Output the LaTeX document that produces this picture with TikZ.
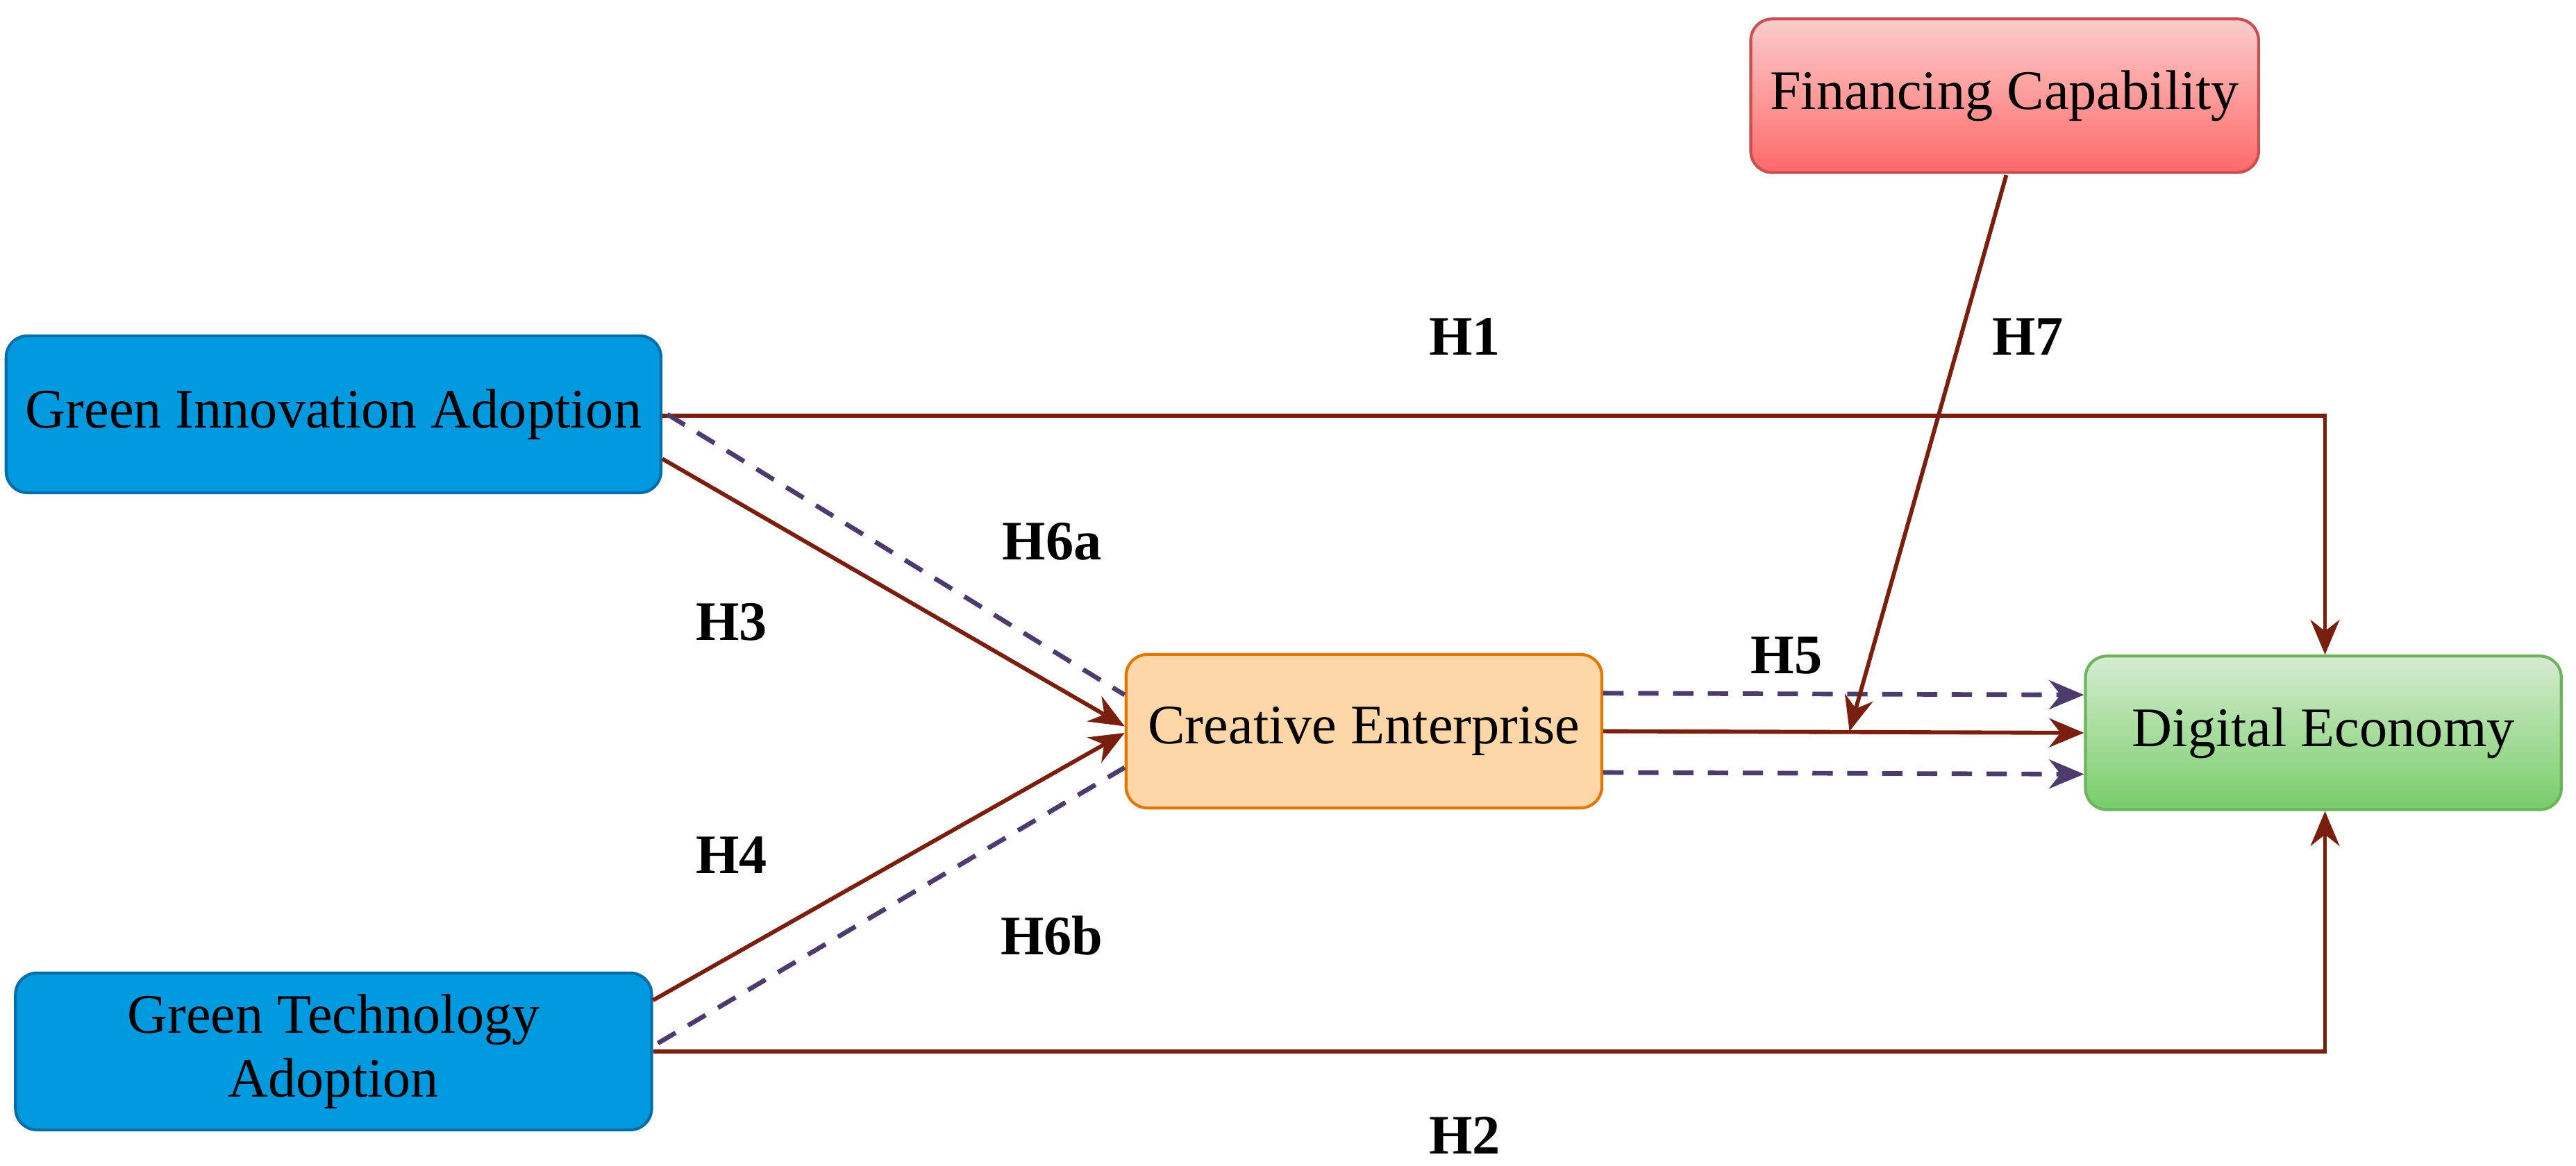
\documentclass[tikz,border=0pt]{standalone}
\usepackage{fontspec}
\setmainfont{Liberation Serif}
\usetikzlibrary{arrows.meta}
\definecolor{arr}{HTML}{7A1E0E}
\definecolor{dsh}{HTML}{4E3B6E}
\begin{document}
\begin{tikzpicture}[x=0.01cm,y=-0.01cm,
 box/.style={rounded corners=0.13cm,minimum width=3.85cm,minimum height=0.95cm,align=center,font=\fontsize{9.6}{11}\selectfont,line width=0.5pt},
 cbox/.style={box,minimum width=2.88cm,minimum height=0.93cm},
 sol/.style={draw=arr,line width=0.7pt},
 ar/.style={sol,-{Stealth[length=6pt,width=5pt]}},
 da/.style={draw=dsh,line width=0.8pt,dash pattern=on 3.5pt off 2.5pt},
 dar/.style={da,-{Stealth[length=6pt,width=5pt]}},
 lab/.style={font=\bfseries\fontsize{9.6}{11}\selectfont}]
\useasboundingbox (0,0) rectangle (1560,706);
\node[box,fill={rgb,255:red,0;green,153;blue,221},draw={rgb,255:red,0;green,110;blue,170}] (gia) at (202,251) {Green Innovation Adoption};
\node[box,fill={rgb,255:red,0;green,153;blue,221},draw={rgb,255:red,0;green,110;blue,170}] (gta) at (202,637) {Green Technology\\Adoption};
\node[cbox,fill={rgb,255:red,255;green,214;blue,168},draw={rgb,255:red,224;green,120;blue,0}] (ce) at (826,443) {Creative Enterprise};
\node[cbox,top color={rgb,255:red,213;green,236;blue,208},bottom color={rgb,255:red,120;green,205;blue,105},draw={rgb,255:red,110;green,180;blue,95}] (de) at (1407,444) {Digital Economy};
\node[cbox,top color={rgb,255:red,250;green,205;blue,204},bottom color={rgb,255:red,255;green,105;blue,105},draw={rgb,255:red,200;green,80;blue,80}] (fc) at (1214,58) {Financing Capability};
\coordinate (c1) at (1408,252);
\coordinate (c2) at (1408,637);
\coordinate (m7) at (1120,443);
\draw[ar] (gia.east |- c1) -- (c1) -- (de.north -| c1);
\draw[ar] (gta.east |- c2) -- (c2) -- (de.south -| c2);
\draw[ar] ([yshift=-0.27cm]gia.east) -- ([yshift=0.03cm]ce.west);
\draw[da] ([yshift=0.0cm,xshift=0.03cm]gia.east) -- ([yshift=0.22cm]ce.west);
\draw[ar] ([yshift=0.31cm]gta.east) -- ([yshift=-0.01cm]ce.west);
\draw[da] ([yshift=0.05cm,xshift=0.03cm]gta.east) -- ([yshift=-0.22cm]ce.west);
\draw[ar] (ce.east) -- (de.west);
\draw[dar] ([yshift=0.23cm]ce.east) -- ([yshift=0.23cm]de.west);
\draw[dar] ([yshift=-0.25cm]ce.east) -- ([yshift=-0.25cm]de.west);
\draw[ar] (1215,106) -- (m7);
\node[lab] at (887,204) {H1};
\node[lab] at (1228,204) {H7};
\node[lab] at (637,328) {H6a};
\node[lab] at (443,377) {H3};
\node[lab] at (1082,397) {H5};
\node[lab] at (443,518) {H4};
\node[lab] at (637,567) {H6b};
\node[lab] at (887,688) {H2};
\end{tikzpicture}
\end{document}
